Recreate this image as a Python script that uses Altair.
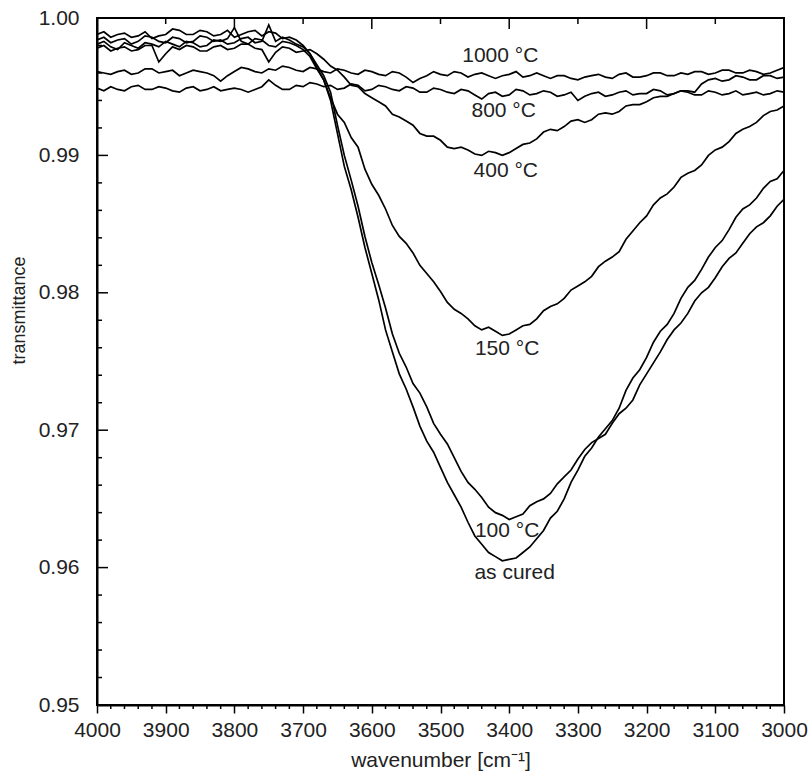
import altair as alt
import pandas as pd

# ---------------- data ----------------
wavenumber = [4000, 3990, 3980, 3970, 3960, 3950, 3940, 3930, 3920, 3910,
              3900, 3890, 3880, 3870, 3860, 3850, 3840, 3830, 3820, 3810,
              3800, 3790, 3780, 3770, 3760, 3750, 3740, 3730, 3720, 3710,
              3700, 3690, 3680, 3670, 3660, 3650, 3640, 3630, 3620, 3610,
              3600, 3590, 3580, 3570, 3560, 3550, 3540, 3530, 3520, 3510,
              3500, 3490, 3480, 3470, 3460, 3450, 3440, 3430, 3420, 3410,
              3400, 3390, 3380, 3370, 3360, 3350, 3340, 3330, 3320, 3310,
              3300, 3290, 3280, 3270, 3260, 3250, 3240, 3230, 3220, 3210,
              3200, 3190, 3180, 3170, 3160, 3150, 3140, 3130, 3120, 3110,
              3100, 3090, 3080, 3070, 3060, 3050, 3040, 3030, 3020, 3010, 3000]

as_cured = [0.9981, 0.9983, 0.9979, 0.9977, 0.9982, 0.9980, 0.9978, 0.9982, 0.9981, 0.9979,
            0.9983, 0.9981, 0.9979, 0.9983, 0.9982, 0.9979, 0.9980, 0.9984, 0.9983, 0.9985,
            0.9993, 0.9983, 0.9981, 0.9985, 0.9984, 0.9980, 0.9979, 0.9983, 0.9982, 0.9980,
            0.9977, 0.9972, 0.9963, 0.9955, 0.9940, 0.9916, 0.9892, 0.9875, 0.9855, 0.9833,
            0.9814, 0.9795, 0.9773, 0.9757, 0.9741, 0.9730, 0.9717, 0.9703, 0.9692, 0.9684,
            0.9673, 0.9662, 0.9653, 0.9644, 0.9633, 0.9623, 0.9617, 0.9611, 0.9608, 0.9605,
            0.9606, 0.9607, 0.9611, 0.9615, 0.9621, 0.9627, 0.9636, 0.9641, 0.9650, 0.9662,
            0.9671, 0.9681, 0.9687, 0.9695, 0.9701, 0.9707, 0.9716, 0.9729, 0.9738, 0.9744,
            0.9753, 0.9764, 0.9772, 0.9777, 0.9785, 0.9796, 0.9804, 0.9809, 0.9817, 0.9826,
            0.9833, 0.9838, 0.9846, 0.9855, 0.9861, 0.9864, 0.9869, 0.9876, 0.9881, 0.9883, 0.9889]

c100 = [0.9984, 0.9986, 0.9982, 0.9984, 0.9985, 0.9981, 0.9983, 0.9987, 0.9986, 0.9983,
        0.9982, 0.9986, 0.9985, 0.9982, 0.9983, 0.9987, 0.9986, 0.9983, 0.9984, 0.9981,
        0.9982, 0.9985, 0.9986, 0.9982, 0.9983, 0.9995, 0.9983, 0.9986, 0.9984, 0.9981,
        0.9979, 0.9974, 0.9966, 0.9958, 0.9946, 0.9922, 0.9900, 0.9882, 0.9863, 0.9841,
        0.9822, 0.9806, 0.9789, 0.9770, 0.9756, 0.9746, 0.9734, 0.9727, 0.9717, 0.9705,
        0.9697, 0.9690, 0.9680, 0.9670, 0.9662, 0.9657, 0.9651, 0.9644, 0.9640, 0.9638,
        0.9635, 0.9637, 0.9639, 0.9645, 0.9648, 0.9650, 0.9654, 0.9661, 0.9666, 0.9671,
        0.9679, 0.9686, 0.9691, 0.9694, 0.9697, 0.9705, 0.9712, 0.9716, 0.9722, 0.9733,
        0.9741, 0.9749, 0.9757, 0.9766, 0.9773, 0.9778, 0.9785, 0.9794, 0.9800, 0.9804,
        0.9811, 0.9819, 0.9825, 0.9829, 0.9836, 0.9843, 0.9848, 0.9851, 0.9856, 0.9863, 0.9868]

c150 = [0.9988, 0.9990, 0.9986, 0.9988, 0.9989, 0.9986, 0.9987, 0.9990, 0.9985, 0.9987,
        0.9988, 0.9992, 0.9991, 0.9988, 0.9988, 0.9991, 0.9990, 0.9987, 0.9988, 0.9991,
        0.9986, 0.9988, 0.9990, 0.9991, 0.9987, 0.9990, 0.9989, 0.9985, 0.9986, 0.9984,
        0.9980, 0.9974, 0.9964, 0.9955, 0.9942, 0.9930, 0.9924, 0.9913, 0.9906, 0.9890,
        0.9879, 0.9871, 0.9861, 0.9849, 0.9841, 0.9836, 0.9829, 0.9820, 0.9814, 0.9808,
        0.9801, 0.9793, 0.9788, 0.9785, 0.9781, 0.9776, 0.9773, 0.9775, 0.9772, 0.9769,
        0.9770, 0.9773, 0.9776, 0.9777, 0.9781, 0.9787, 0.9790, 0.9792, 0.9796, 0.9802,
        0.9805, 0.9808, 0.9812, 0.9819, 0.9823, 0.9826, 0.9830, 0.9839, 0.9845, 0.9851,
        0.9856, 0.9864, 0.9869, 0.9872, 0.9877, 0.9884, 0.9887, 0.9889, 0.9893, 0.9900,
        0.9904, 0.9906, 0.9910, 0.9916, 0.9919, 0.9921, 0.9924, 0.9929, 0.9932, 0.9933, 0.9936]

c400 = [0.9978, 0.9980, 0.9976, 0.9978, 0.9979, 0.9976, 0.9977, 0.9980, 0.9980, 0.9968,
        0.9974, 0.9979, 0.9977, 0.9980, 0.9979, 0.9976, 0.9976, 0.9979, 0.9980, 0.9977,
        0.9978, 0.9981, 0.9981, 0.9978, 0.9977, 0.9968, 0.9975, 0.9979, 0.9978, 0.9975,
        0.9976, 0.9977, 0.9974, 0.9970, 0.9965, 0.9962, 0.9957, 0.9951, 0.9950, 0.9945,
        0.9942, 0.9939, 0.9936, 0.9930, 0.9928, 0.9925, 0.9922, 0.9916, 0.9914, 0.9914,
        0.9911, 0.9906, 0.9905, 0.9906, 0.9904, 0.9901, 0.9900, 0.9903, 0.9902, 0.9900,
        0.9902, 0.9905, 0.9908, 0.9909, 0.9912, 0.9917, 0.9919, 0.9918, 0.9921, 0.9925,
        0.9926, 0.9924, 0.9926, 0.9930, 0.9931, 0.9930, 0.9932, 0.9936, 0.9937, 0.9937,
        0.9939, 0.9942, 0.9943, 0.9943, 0.9945, 0.9947, 0.9947, 0.9946, 0.9952, 0.9955,
        0.9956, 0.9954, 0.9955, 0.9958, 0.9957, 0.9955, 0.9955, 0.9958, 0.9958, 0.9956, 0.9957]

c800 = [0.9949, 0.9947, 0.9950, 0.9948, 0.9947, 0.9950, 0.9951, 0.9948, 0.9948, 0.9950,
        0.9949, 0.9947, 0.9946, 0.9949, 0.9950, 0.9947, 0.9948, 0.9950, 0.9947, 0.9948,
        0.9949, 0.9948, 0.9946, 0.9948, 0.9950, 0.9955, 0.9951, 0.9948, 0.9948, 0.9951,
        0.9950, 0.9953, 0.9952, 0.9950, 0.9951, 0.9948, 0.9949, 0.9952, 0.9951, 0.9947,
        0.9948, 0.9951, 0.9950, 0.9948, 0.9947, 0.9950, 0.9949, 0.9946, 0.9946, 0.9949,
        0.9948, 0.9946, 0.9945, 0.9948, 0.9947, 0.9944, 0.9941, 0.9945, 0.9946, 0.9943,
        0.9944, 0.9948, 0.9947, 0.9944, 0.9945, 0.9947, 0.9946, 0.9943, 0.9944, 0.9946,
        0.9940, 0.9943, 0.9945, 0.9946, 0.9943, 0.9944, 0.9946, 0.9947, 0.9944, 0.9945,
        0.9945, 0.9948, 0.9947, 0.9944, 0.9945, 0.9947, 0.9946, 0.9944, 0.9944, 0.9947,
        0.9946, 0.9944, 0.9945, 0.9947, 0.9944, 0.9945, 0.9946, 0.9944, 0.9945, 0.9947, 0.9946]

c1000 = [0.9961, 0.9960, 0.9959, 0.9961, 0.9962, 0.9959, 0.9960, 0.9963, 0.9963, 0.9960,
         0.9961, 0.9962, 0.9958, 0.9960, 0.9962, 0.9961, 0.9960, 0.9958, 0.9954, 0.9958,
         0.9961, 0.9964, 0.9963, 0.9961, 0.9960, 0.9963, 0.9962, 0.9965, 0.9964, 0.9962,
         0.9961, 0.9964, 0.9963, 0.9961, 0.9960, 0.9963, 0.9962, 0.9960, 0.9959, 0.9962,
         0.9961, 0.9959, 0.9958, 0.9961, 0.9960, 0.9957, 0.9953, 0.9956, 0.9958, 0.9961,
         0.9959, 0.9958, 0.9961, 0.9960, 0.9957, 0.9959, 0.9960, 0.9958, 0.9956, 0.9958,
         0.9959, 0.9961, 0.9957, 0.9958, 0.9960, 0.9958, 0.9956, 0.9958, 0.9958, 0.9956,
         0.9955, 0.9957, 0.9958, 0.9959, 0.9957, 0.9956, 0.9959, 0.9960, 0.9957, 0.9957,
         0.9958, 0.9960, 0.9960, 0.9958, 0.9958, 0.9960, 0.9959, 0.9961, 0.9961, 0.9959,
         0.9960, 0.9962, 0.9962, 0.9960, 0.9960, 0.9962, 0.9961, 0.9959, 0.9960, 0.9962, 0.9964]

series_names = ["as cured", "100 °C", "150 °C", "400 °C", "800 °C", "1000 °C"]
series_values = [as_cured, c100, c150, c400, c800, c1000]

label_text = ["1000 °C", "800 °C", "400 °C", "150 °C", "100 °C", "as cured"]
label_wn = [3413, 3408, 3405, 3403, 3403, 3392]
label_tr = [0.9972, 0.9932, 0.9889, 0.9759, 0.9627, 0.9596]

x_major = [4000, 3900, 3800, 3700, 3600, 3500, 3400, 3300, 3200, 3100, 3000]
x_minor = [w for w in range(4000, 2999, -20) if w % 100 != 0]
x_top_long = [3800, 3600, 3400, 3200]
x_top_short = [3900, 3700, 3500, 3300, 3100]
y_major = [0.95, 0.96, 0.97, 0.98, 0.99, 1.00]
y_minor = [0.952, 0.954, 0.956, 0.958, 0.962, 0.964, 0.966, 0.968,
           0.972, 0.974, 0.976, 0.978, 0.982, 0.984, 0.986, 0.988,
           0.992, 0.994, 0.996, 0.998]

# ---------------- build ----------------
rows = []
for name, vals in zip(series_names, series_values):
    for w, v in zip(wavenumber, vals):
        rows.append({"wavenumber": w, "transmittance": v, "series": name})
df = pd.DataFrame(rows)
labels_df = pd.DataFrame({"label": label_text, "wavenumber": label_wn, "transmittance": label_tr})

W, H = 687, 687
FONT = "Liberation Sans"
TXT = "#222222"
xscale = alt.Scale(domain=[3000, 4000], reverse=True, nice=False, zero=False)
yscale = alt.Scale(domain=[0.95, 1.0], nice=False, zero=False)

xaxis = alt.Axis(values=x_major, format="d", tickSize=8, tickWidth=1.5,
                 tickColor="black", domainColor="black", domainWidth=2,
                 labelFont=FONT, labelFontSize=21, labelColor=TXT, labelPadding=6,
                 grid=False, title="wavenumber [cm⁻¹]", titleFont=FONT,
                 titleFontSize=21, titleFontWeight="normal", titleColor=TXT,
                 titlePadding=9, labelFlush=False)
yaxis = alt.Axis(values=y_major, format=".2f", ticks=False, tickSize=0,
                 domainColor="black", domainWidth=2,
                 labelFont=FONT, labelFontSize=21, labelColor=TXT, labelPadding=18,
                 grid=False, title="transmittance", titleFont=FONT,
                 titleFontSize=18, titleFontWeight="normal", titleColor=TXT,
                 titlePadding=10, titleY=292, labelFlush=False)

lines = alt.Chart(df).mark_line(color="black", strokeWidth=1.7, clip=True).encode(
    x=alt.X("wavenumber:Q", scale=xscale, axis=xaxis),
    y=alt.Y("transmittance:Q", scale=yscale, axis=yaxis),
    detail="series:N",
)

def yticks(vals, length):
    return alt.Chart(pd.DataFrame({"transmittance": vals})).mark_rule(color="black", strokeWidth=1.5).encode(
        y=alt.Y("transmittance:Q", scale=yscale, axis=yaxis), x=alt.value(0), x2=alt.value(length))

def xticks(vals, y0, y1):
    return alt.Chart(pd.DataFrame({"wavenumber": vals})).mark_rule(color="black", strokeWidth=1.5).encode(
        x=alt.X("wavenumber:Q", scale=xscale, axis=xaxis), y=alt.value(y0), y2=alt.value(y1))

texts = alt.Chart(labels_df).mark_text(font=FONT, fontSize=21, color=TXT,
                                      align="center", baseline="middle").encode(
    x=alt.X("wavenumber:Q", scale=xscale, axis=xaxis),
    y=alt.Y("transmittance:Q", scale=yscale, axis=yaxis),
    text="label:N")

chart = alt.layer(
    lines,
    yticks(y_major, 11), yticks(y_minor, 5),
    xticks(x_minor, H, H + 4),
    xticks(x_top_long, 0, 11), xticks(x_top_short, 0, 6),
    texts,
).properties(
    width=W, height=H,
    padding={"left": 97, "top": 18, "right": 27, "bottom": 73},
    autosize=alt.AutoSizeParams(type="none"),
    background="white",
).configure_view(stroke="black", strokeWidth=2)

chart.save("out.html", embed_options={"renderer": "svg", "actions": False})
